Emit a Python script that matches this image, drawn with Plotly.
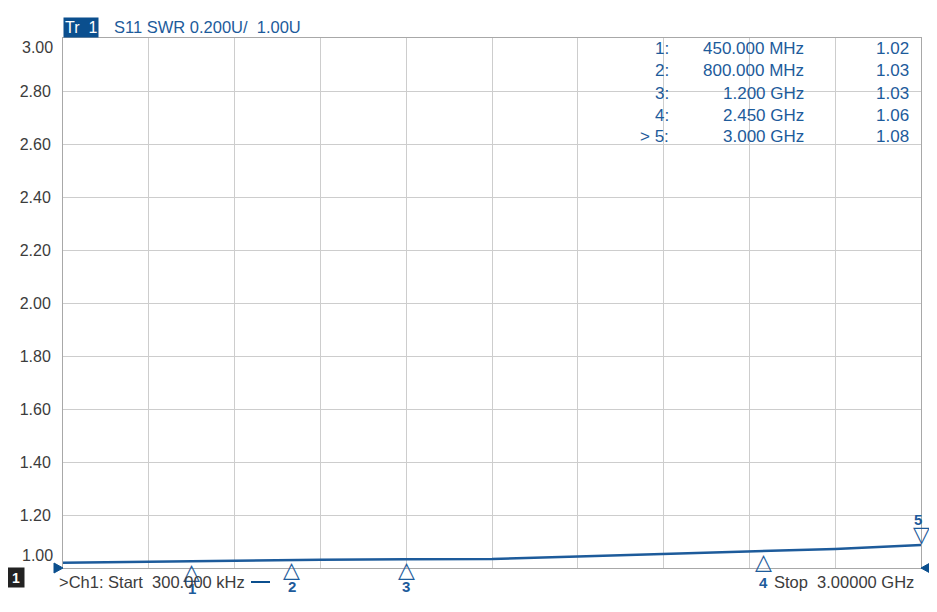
import plotly.graph_objects as go

# ---------------- data ----------------
freq_ghz = [0.0003, 0.3, 0.6, 0.9, 1.2, 1.5, 1.8, 2.1, 2.4, 2.7, 3.0]
swr = [1.020, 1.024, 1.029, 1.031, 1.033, 1.034, 1.043, 1.053, 1.062, 1.072, 1.087]

marker_ids = ["1", "2", "3", "4", "5"]
marker_freq_ghz = [0.45, 0.8, 1.2, 2.45, 3.0]
marker_freq_text = ["450.000 MHz", "800.000 MHz", "1.200 GHz", "2.450 GHz", "3.000 GHz"]
marker_swr = [1.02, 1.03, 1.03, 1.06, 1.08]
marker_prefix = ["1:", "2:", "3:", "4:", "> 5:"]

y_ticks = [1.0, 1.2, 1.4, 1.6, 1.8, 2.0, 2.2, 2.4, 2.6, 2.8, 3.0]
y_tick_text = ["", "1.20", "1.40", "1.60", "1.80", "2.00", "2.20", "2.40", "2.60", "2.80", ""]

start_ghz, stop_ghz = 0.0003, 3.0
y_min, y_max = 1.0, 3.0

# ---------------- style ----------------
OFF = 8  # default page body margin
W, H = 937 - OFF, 612 - OFF
ML, MR, MT, MB = 63 - OFF, 16, 38 - OFF, 44
BLUE = "#1d5b9b"
DARK_BLUE = "#0b4f8e"
GRAY_TXT = "#3c3c3c"
GRID = "#cdcdcd"
FONT = "Liberation Sans, Arial, sans-serif"
plot_h = H - MT - MB
plot_w = W - ML - MR


def ypaper(py):  # screen pixel -> paper
    return (H - MB - (py - OFF)) / plot_h


def xpaper(px):
    return (px - OFF - ML) / plot_w


fig = go.Figure()
fig.add_trace(go.Scatter(x=freq_ghz, y=swr, mode="lines",
                         line=dict(color=BLUE, width=2.5), hoverinfo="skip"))

xgrid = [start_ghz + i * (stop_ghz - start_ghz) / 10 for i in range(11)]

shapes = []
annotations = []

# marker symbols and numbers
for mid, f, v in zip(marker_ids, marker_freq_ghz, marker_swr):
    if mid == "5":
        sym, sym_shift, num_shift = "\u25BD", 12, 27
    else:
        sym, sym_shift = "\u25B3", -9
        num_shift = -30 if mid == "4" else -26
    annotations.append(dict(x=f, y=v, xref="x", yref="y", text=sym, showarrow=False,
                            yshift=sym_shift,
                            font=dict(family="DejaVu Sans", size=22, color=BLUE)))
    annotations.append(dict(x=f, y=v, xref="x", yref="y", text="<b>" + mid + "</b>",
                            showarrow=False, yshift=num_shift,
                            xshift=-3 if mid == "5" else 0,
                            font=dict(family=FONT, size=15, color=BLUE)))

# reference level indicators
shapes.append(dict(type="path", xref="paper", yref="paper", xsizemode="pixel", ysizemode="pixel",
                   xanchor=0, yanchor=0, path="M 0 0 L -9 5 L -9 -5 Z",
                   line=dict(color=DARK_BLUE, width=1), fillcolor=DARK_BLUE))
shapes.append(dict(type="path", xref="paper", yref="paper", xsizemode="pixel", ysizemode="pixel",
                   xanchor=1, yanchor=0, path="M 0 0 L 9 5 L 9 -5 Z",
                   line=dict(color=DARK_BLUE, width=1), fillcolor=DARK_BLUE))

# end y labels
annotations.append(dict(x=0, y=y_max, xref="paper", yref="y", text="3.00", showarrow=False,
                        xanchor="right", xshift=-8, yshift=-9,
                        font=dict(family=FONT, size=16, color=GRAY_TXT)))
annotations.append(dict(x=0, y=y_min, xref="paper", yref="y", text="1.00", showarrow=False,
                        xanchor="right", xshift=-8, yshift=13,
                        font=dict(family=FONT, size=16, color=GRAY_TXT)))

# header
annotations.append(dict(x=0, y=1, xref="paper", yref="paper", text="Tr\u00a0 1", showarrow=False,
                        xanchor="left", yanchor="bottom", bgcolor=DARK_BLUE, borderpad=1,
                        font=dict(family=FONT, size=16, color="white")))
annotations.append(dict(x=xpaper(112), y=ypaper(27), xref="paper", yref="paper",
                        text="S11 SWR 0.200U/\u00a0 1.00U", showarrow=False,
                        xanchor="left", yanchor="middle",
                        font=dict(family=FONT, size=16.5, color=BLUE)))

# marker table
row_y = [48, 71, 94, 116, 137]
for pre, ft, v, ry in zip(marker_prefix, marker_freq_text, marker_swr, row_y):
    for txt, xr in ((pre, 671), (ft, 806), (f"{v:.2f}", 911)):
        annotations.append(dict(x=xpaper(xr), y=ypaper(ry), xref="paper", yref="paper",
                                text=txt, showarrow=False, xanchor="right", yanchor="middle",
                                font=dict(family=FONT, size=17, color=BLUE)))

# bottom line
annotations.append(dict(x=xpaper(57), y=ypaper(582), xref="paper", yref="paper",
                        text=">Ch1: Start\u00a0 300.000 kHz", showarrow=False,
                        xanchor="left", yanchor="middle",
                        font=dict(family=FONT, size=16.5, color=GRAY_TXT)))
shapes.append(dict(type="line", xref="paper", yref="paper",
                   x0=xpaper(251), x1=xpaper(270), y0=ypaper(582), y1=ypaper(582),
                   line=dict(color=DARK_BLUE, width=2)))
annotations.append(dict(x=xpaper(916), y=ypaper(582), xref="paper", yref="paper",
                        text="Stop\u00a0 3.00000 GHz", showarrow=False,
                        xanchor="right", yanchor="middle",
                        font=dict(family=FONT, size=16.5, color=GRAY_TXT)))
annotations.append(dict(x=xpaper(16), y=ypaper(577), xref="paper", yref="paper",
                        text="<b>1</b>", showarrow=False, xanchor="center", yanchor="middle",
                        bgcolor="#222222", borderpad=1, width=14, height=17,
                        font=dict(family=FONT, size=14, color="white")))

fig.update_layout(
    width=W, height=H,
    margin=dict(l=ML, r=MR, t=MT, b=MB),
    paper_bgcolor="white", plot_bgcolor="white",
    showlegend=False,
    shapes=shapes, annotations=annotations,
    xaxis=dict(range=[start_ghz, stop_ghz], tickvals=xgrid, showticklabels=False, ticks="",
               showgrid=True, gridcolor=GRID, gridwidth=1, zeroline=False,
               showline=True, linecolor="#a8a8a8", linewidth=1, mirror=True),
    yaxis=dict(range=[y_min, y_max], tickvals=y_ticks, ticktext=y_tick_text, ticks="",
               ticklabelstandoff=8, tickfont=dict(family=FONT, size=16, color=GRAY_TXT),
               showgrid=True, gridcolor=GRID, gridwidth=1, zeroline=False,
               showline=True, linecolor="#a8a8a8", linewidth=1, mirror=True),
)

fig.write_html("out.html")
